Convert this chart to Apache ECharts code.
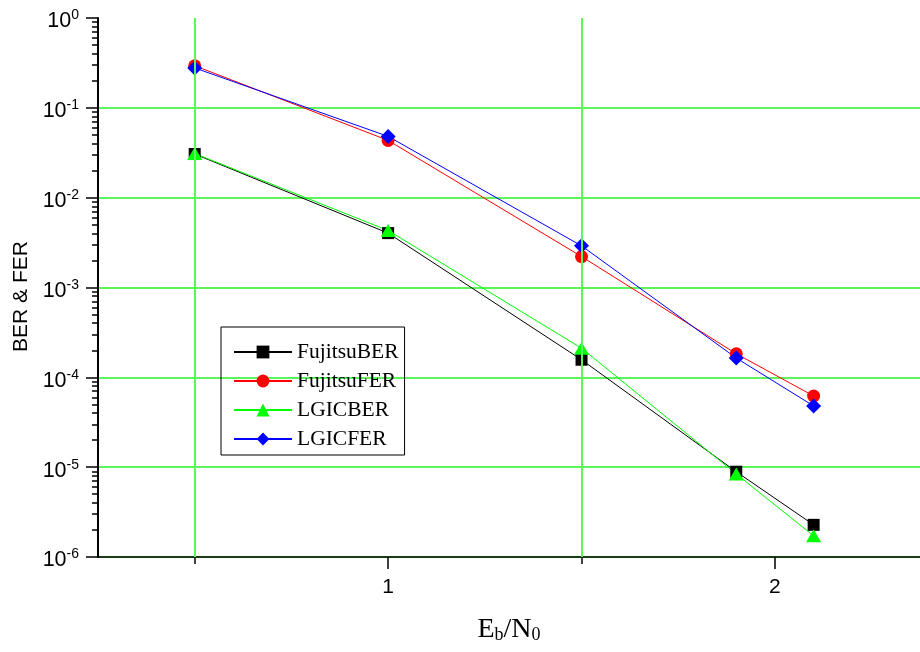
<!DOCTYPE html>
<html>
<head>
<meta charset="utf-8">
<script src="https://cdn.jsdelivr.net/npm/echarts@6/dist/echarts.min.js"></script>
<style>
html, body { margin: 0; padding: 0; background: #fff; }
#chart { width: 920px; height: 652px; }
</style>
</head>
<body>
<div id="chart"></div>
<script>
// Eb/N0 points
var ebno = [0.5, 1.0, 1.5, 1.9, 2.1];
var fujitsuBER = [0.0306, 4.03e-3, 1.57e-4, 8.9e-6, 2.28e-6];
var fujitsuFER = [0.294, 0.0434, 2.21e-3, 1.83e-4, 6.2e-5];
var lgicBER = [0.031, 4.31e-3, 2.11e-4, 8.4e-6, 1.72e-6];
var lgicFER = [0.278, 0.0481, 2.91e-3, 1.64e-4, 4.8e-5];

var xLabelTicks = [1, 2];
var xMinorTicks = [0.5, 1.5];
var xGridLines = [0.5, 1.5];
var yDecades = [1e-6, 1e-5, 1e-4, 1e-3, 1e-2, 1e-1];
var yMinorSteps = [2, 3, 4, 5, 6, 7, 8, 9];

// minor log ticks, placed on a hidden linear axis in exponent units
var yMinorExp = [];
yDecades.forEach(function (d) {
    yMinorSteps.forEach(function (m) { yMinorExp.push(Math.log10(d * m)); });
});

function pairs(ys) {
    return ebno.map(function (x, i) { return [x, ys[i]]; });
}

var gridGreen = '#5cf55c';

var chart = echarts.init(document.getElementById('chart'));
chart.setOption({
    animation: false,
    backgroundColor: '#fff',
    grid: { left: 98, right: 0, top: 18, bottom: 95, containLabel: false, outerBoundsMode: 'none' },
    legend: {
        data: ['FujitsuBER', 'FujitsuFER', 'LGICBER', 'LGICFER'],
        orient: 'vertical',
        left: 221,
        top: 327,
        borderColor: '#000',
        borderWidth: 1,
        padding: [14, 6, 5, 12],
        itemWidth: 58,
        itemHeight: 16,
        itemGap: 7,
        textStyle: { fontFamily: 'Liberation Serif', fontSize: 21.5, color: '#000' }
    },
    xAxis: [{
        type: 'value',
        min: 0.25,
        max: 2.375,
        position: 'bottom',
        axisLine: { onZero: false, lineStyle: { color: '#000', width: 1.5 } },
        axisTick: { customValues: xLabelTicks, length: 12, lineStyle: { color: '#000', width: 1.5 } },
        axisLabel: {
            customValues: xLabelTicks,
            margin: 20,
            fontFamily: 'Liberation Sans',
            fontSize: 21,
            color: '#000'
        },
        splitLine: { show: false },
        name: '{e|E}{s|b}{e|/N}{s|0}',
        nameLocation: 'middle',
        nameGap: 59,
        nameMoveOverlap: false,
        nameTextStyle: {
            rich: {
                e: { fontFamily: 'Liberation Serif', fontSize: 28, lineHeight: 28, verticalAlign: 'top', color: '#000' },
                s: { fontFamily: 'Liberation Serif', fontSize: 18, lineHeight: 18, padding: [40, 0, 0, 0], verticalAlign: 'bottom', color: '#000' }
            }
        }
    }, {
        type: 'value',
        min: 0.25,
        max: 2.375,
        position: 'bottom',
        axisLine: { show: false, onZero: false },
        axisTick: { customValues: xMinorTicks, length: 7, lineStyle: { color: '#000', width: 1.5 } },
        axisLabel: { show: false },
        splitLine: { show: false }
    }],
    yAxis: [{
        type: 'log',
        logBase: 10,
        min: 1e-6,
        max: 1,
        splitNumber: 6,
        position: 'left',
        axisLine: { show: true, onZero: false, lineStyle: { color: '#000', width: 2 } },
        axisTick: { show: true, length: 12, lineStyle: { color: '#000', width: 1.5 } },
        axisLabel: {
            margin: 19,
            padding: [5, 0, 0, 0],
            formatter: function (v) {
                var e = Math.round(Math.log10(v));
                return '{b|10}{s|' + e + '}';
            },
            rich: {
                b: { fontFamily: 'Liberation Sans', fontSize: 21.5, lineHeight: 24, verticalAlign: 'bottom', color: '#000' },
                s: { fontFamily: 'Liberation Sans', fontSize: 14, lineHeight: 14, verticalAlign: 'top', color: '#000' }
            }
        },
        splitLine: { show: true, showMaxLine: false, lineStyle: { color: gridGreen, width: 2 } },
        name: 'BER & FER',
        nameLocation: 'middle',
        nameGap: 66,
        nameMoveOverlap: false,
        nameTextStyle: { fontFamily: 'Liberation Sans', fontSize: 21, color: '#000', padding: [0, 18, 0, 0] }
    }, {
        type: 'value',
        min: -6,
        max: 0,
        position: 'left',
        axisLine: { show: false, onZero: false },
        axisTick: { show: true, customValues: yMinorExp, length: 6, lineStyle: { color: '#000', width: 1.5 } },
        axisLabel: { show: false },
        splitLine: { show: false }
    }],
    series: [{
        name: 'grid',
        type: 'line',
        data: [],
        z: 1,
        silent: true,
        markLine: {
            silent: true,
            symbol: 'none',
            label: { show: false },
            lineStyle: { color: gridGreen, type: 'solid', width: 2 },
            data: xGridLines.map(function (v) { return { xAxis: v }; })
        }
    }, {
        name: 'FujitsuBER',
        type: 'line',
        data: pairs(fujitsuBER),
        symbol: 'rect',
        symbolSize: 12,
        color: '#000',
        lineStyle: { width: 1, color: '#000' }
    }, {
        name: 'FujitsuFER',
        type: 'line',
        data: pairs(fujitsuFER),
        symbol: 'circle',
        symbolSize: 13,
        color: '#ff0000',
        lineStyle: { width: 1, color: '#ff0000' }
    }, {
        name: 'LGICBER',
        type: 'line',
        data: pairs(lgicBER),
        symbol: 'triangle',
        symbolSize: [15, 13],
        color: '#00ff00',
        lineStyle: { width: 1, color: '#00ff00' }
    }, {
        name: 'LGICFER',
        type: 'line',
        data: pairs(lgicFER),
        symbol: 'diamond',
        symbolSize: 15,
        color: '#0000ff',
        lineStyle: { width: 1, color: '#0000ff' }
    }]
});
</script>
</body>
</html>
